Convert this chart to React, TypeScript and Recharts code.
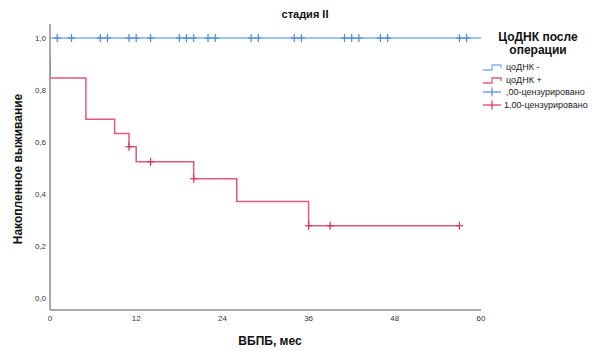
import React from "react";
import { ComposedChart, Line, Scatter, XAxis, YAxis } from "recharts";

// Kaplan–Meier step points (time in months, cumulative survival)
const negTimes = [0, 60];
const negSurv = [1.0, 1.0];
const posTimes = [0, 0, 5, 9, 11, 12, 20, 26, 36, 57];
const posSurv = [0.923, 0.846, 0.688, 0.633, 0.582, 0.524, 0.459, 0.371, 0.278, 0.278];

// Censored observations
const negCensored = [1, 3, 7, 8, 11, 12, 14, 18, 19, 20, 22, 23, 28, 29, 34, 35, 41, 42, 43, 46, 47, 57, 58];
const posCensored = [11, 14, 20, 36, 39, 57];
const posCensoredSurv = [0.582, 0.524, 0.459, 0.278, 0.278, 0.278];

const xTicks = [0, 12, 24, 36, 48, 60];
const yTicks = [0, 0.2, 0.4, 0.6, 0.8, 1.0];

const title = "стадия II";
const xLabel = "ВБПБ, мес";
const yLabel = "Накопленное выживание";
const legendTitle = ["ЦоДНК после", "операции"];
const legendItems = ["цоДНК -", "цоДНК +", ",00-цензурировано", "1,00-цензурировано"];

const BLUE_LINE = "#7fb1ee";
const BLUE_MARK = "#4a88e4";
const RED_LINE = "#e5587d";
const RED_MARK = "#d8305a";

const negData = negTimes.map((t, i) => ({ t, s: negSurv[i] }));
const posData = posTimes.map((t, i) => ({ t, s: posSurv[i] }));
const negCensData = negCensored.map((t) => ({ t, s: 1.0 }));
const posCensData = posCensored.map((t, i) => ({ t, s: posCensoredSurv[i] }));

const font = "'Liberation Sans', Arial, sans-serif";

const makeCross = (color: string) => (props: any) => {
  const { cx, cy } = props;
  return (
    <g>
      <line x1={cx - 3.5} x2={cx + 3.5} y1={cy} y2={cy} stroke={color} strokeWidth={1.2} />
      <line x1={cx} x2={cx} y1={cy - 4} y2={cy + 4} stroke={color} strokeWidth={1.2} />
    </g>
  );
};

const fmt = (v: number) => v.toFixed(1).replace(".", ",");

function StepIcon({ color }: { color: string }) {
  return (
    <svg width={20} height={10} style={{ display: "block" }}>
      <path d="M1 8 H10 V3 H19 V6" fill="none" stroke={color} strokeWidth={1.3} />
    </svg>
  );
}

function CrossIcon({ color }: { color: string }) {
  return (
    <svg width={20} height={10} style={{ display: "block" }}>
      <line x1={1} x2={19} y1={5} y2={5} stroke={color} strokeWidth={1.2} />
      <line x1={10} x2={10} y1={0.5} y2={9.5} stroke={color} strokeWidth={1.2} />
    </svg>
  );
}

export default function App() {
  const icons = [
    <StepIcon color={BLUE_LINE} />,
    <StepIcon color={RED_LINE} />,
    <CrossIcon color={BLUE_MARK} />,
    <CrossIcon color={RED_MARK} />,
  ];
  return (
    <div style={{ position: "absolute", left: 0, top: 0, width: 606, height: 351, background: "#fff", fontFamily: font }}>
      <ComposedChart width={606} height={351} margin={{ top: 24, right: 125, bottom: 11, left: 0 }}>
        <XAxis
          type="number"
          dataKey="t"
          domain={[0, 60]}
          ticks={xTicks}
          allowDataOverflow
          height={30}
          tickLine={false}
          tickSize={0}
          axisLine={{ stroke: "#8c8c8c", strokeWidth: 1.5 }}
          tick={{ fontSize: 8, fill: "#333", fontFamily: font }}
          tickMargin={5}
        />
        <YAxis
          type="number"
          dataKey="s"
          domain={[-0.046, 1.054]}
          ticks={yTicks}
          allowDataOverflow
          width={50}
          tickFormatter={fmt}
          tickLine={false}
          tickSize={0}
          axisLine={{ stroke: "#8c8c8c", strokeWidth: 1.5 }}
          tick={{ fontSize: 8, fill: "#333", fontFamily: font }}
          tickMargin={4}
        />
        <Line data={negData} dataKey="s" type="stepAfter" stroke={BLUE_LINE} strokeWidth={1.5} dot={false} isAnimationActive={false} />
        <Line data={posData} dataKey="s" type="stepAfter" stroke={RED_LINE} strokeWidth={1.5} dot={false} isAnimationActive={false} />
        <Scatter data={negCensData} dataKey="s" shape={makeCross(BLUE_MARK)} isAnimationActive={false} />
        <Scatter data={posCensData} dataKey="s" shape={makeCross(RED_MARK)} isAnimationActive={false} />
        <text x={305} y={18} textAnchor="middle" fontSize={11} fontWeight="bold" fontFamily={font} fill="#111">{title}</text>
        <text x={270} y={345} textAnchor="middle" fontSize={12} fontWeight="bold" fontFamily={font} fill="#111">{xLabel}</text>
        <text x={22} y={169} textAnchor="middle" fontSize={12} fontWeight="bold" fontFamily={font} fill="#111" transform="rotate(-90 22 169)">{yLabel}</text>
      </ComposedChart>
      <div style={{ position: "absolute", left: 482, top: 31, width: 124, fontFamily: font }}>
        <div style={{ width: 112, textAlign: "center", fontSize: 12, fontWeight: "bold", lineHeight: "12.5px", color: "#111" }}>
          <div>{legendTitle[0]}</div>
          <div>{legendTitle[1]}</div>
        </div>
        <div style={{ marginTop: 5 }}>
          {legendItems.map((label, i) => (
            <div key={label} style={{ display: "flex", alignItems: "center", height: 12.5, fontSize: 9, color: "#222" }}>
              {icons[i]}
              <span style={{ marginLeft: i === 3 ? 2 : 4, whiteSpace: "nowrap" }}>{label}</span>
            </div>
          ))}
        </div>
      </div>
    </div>
  );
}
